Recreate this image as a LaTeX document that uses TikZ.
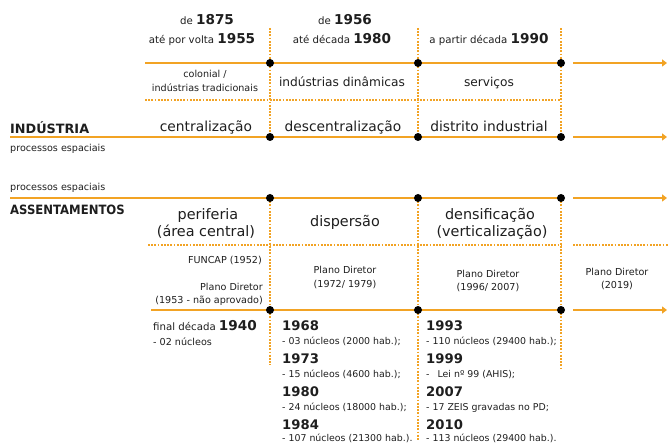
\documentclass[tikz,border=0pt]{standalone}
\usepackage{fontspec}
\setmainfont{DejaVu Sans}
\usetikzlibrary{arrows.meta}
\definecolor{orng}{RGB}{242,163,36}
\definecolor{txt}{RGB}{30,30,30}
\pgfdeclarelayer{bg}
\pgfsetlayers{bg,main}
\newcommand{\byr}[1]{{\fontsize{13.6}{15}\selectfont\bfseries #1}}
\begin{document}
\begin{tikzpicture}[x=1pt,y=-1pt,
  solidline/.style={orng, line width=2.8pt},
  arrline/.style={orng, line width=2.8pt, -{Triangle[length=5pt,width=7pt]}},
  dotline/.style={orng, line width=1.8pt, dash pattern=on 1.8pt off 1.4pt},
  hdot/.style={circle, fill=black, inner sep=0pt, minimum size=8pt},
  lbl/.style={text=txt, inner sep=0pt},
  sm/.style={lbl, font=\fontsize{9.6}{11}\selectfont},
  hs/.style={lbl, font=\fontsize{10.2}{12}\selectfont},
  ds/.style={lbl, font=\fontsize{9.4}{11}\selectfont},
  md/.style={lbl, font=\fontsize{12.2}{14}\selectfont},
  lg/.style={lbl, font=\fontsize{13.8}{16}\selectfont},
  xl/.style={lbl, font=\fontsize{14.4}{16}\selectfont},
  hd/.style={lbl, font=\fontsize{12.8}{16}\selectfont\bfseries},
  yr/.style={lbl, font=\fontsize{13.2}{16}\selectfont\bfseries},
]
\useasboundingbox (0,0) rectangle (668,443);

% junction dots
\foreach \n/\yy in {t/63,i/137,a/198,b/310}{
  \node[hdot] (\n1) at (270,\yy) {};
  \node[hdot] (\n2) at (418,\yy) {};
  \node[hdot] (\n3) at (561,\yy) {};
}
% free ends
\coordinate (tL) at (145,63);  \coordinate (tA) at (573,63);  \coordinate (tE) at (667,63);
\coordinate (iL) at (10,137);  \coordinate (iA) at (573,137); \coordinate (iE) at (667,137);
\coordinate (aL) at (10,198);  \coordinate (aA) at (573,198); \coordinate (aE) at (667,198);
\coordinate (bL) at (151,310); \coordinate (bA) at (573,310); \coordinate (bE) at (667,310);
\coordinate (d1L) at (145,100); \coordinate (d1R) at (561,100);
\coordinate (d2L) at (148,245); \coordinate (d2R) at (561,245);
\coordinate (d2A) at (573,245); \coordinate (d2E) at (668,245);
\coordinate (v1T) at (270,28); \coordinate (v2T) at (418,28); \coordinate (v3T) at (561,28);
\coordinate (v1B) at (270,365); \coordinate (v2B) at (418,440); \coordinate (v3B) at (561,368);

\begin{pgfonlayer}{bg}
  \foreach \n in {t,i,a,b}{
    \draw[solidline] (\n1.center) -- (\n2.center) -- (\n3.center);
    \draw[arrline] (\n A) -- (\n E);
  }
  \draw[solidline] (tL) -- (t1.center);
  \draw[solidline] (iL) -- (i1.center);
  \draw[solidline] (aL) -- (a1.center);
  \draw[solidline] (bL) -- (b1.center);
  \draw[dotline] (d1L) -- (d1R);
  \draw[dotline] (d2L) -- (d2R);
  \draw[dotline] (d2A) -- (d2E);
  \draw[dotline] (v1T) -- (i1.center);
  \draw[dotline] (v2T) -- (i2.center);
  \draw[dotline] (v3T) -- (i3.center);
  \draw[dotline] (a1.center) -- (v1B);
  \draw[dotline] (a2.center) -- (v2B);
  \draw[dotline] (a3.center) -- (v3B);
\end{pgfonlayer}

% header
\node[hs, anchor=base] (h1a) at (207,25) {de \byr{1875}};
\node[hs, anchor=base] (h1b) at (202,43.5) {até por volta \byr{1955}};
\node[hs, anchor=base] (h2a) at (345,25) {de \byr{1956}};
\node[hs, anchor=base] (h2b) at (342,43.5) {até década \byr{1980}};
\node[hs, anchor=base] (h3b) at (489,43.5) {a partir década \byr{1990}};

% industry rows
\node[sm, anchor=base] (c1a) at (205,77.7) {colonial /};
\node[sm, anchor=base] (c1b) at (205,91.7) {indústrias tradicionais};
\node[md, anchor=base] (c2) at (342,87) {indústrias dinâmicas};
\node[md, anchor=base] (c3) at (489,87) {serviços};
\node[lg, anchor=base] (p1) at (206,131.7) {centralização};
\node[lg, anchor=base] (p2) at (343,131.7) {descentralização};
\node[lg, anchor=base] (p3) at (489,131.7) {distrito industrial};
\node[hd, anchor=base west] (ind) at (10,133.3) {INDÚSTRIA};
\node[sm, anchor=base west] (pe1) at (10,152) {processos espaciais};

% settlements
\node[sm, anchor=base west] (pe2) at (10,191) {processos espaciais};
\node[hd, anchor=base west] (ass) at (10,215) {\scalebox{0.91}[1]{ASSENTAMENTOS}};
\node[xl, anchor=base] (s1a) at (208,220) {periferia};
\node[xl, anchor=base] (s1b) at (206,237) {(área central)};
\node[xl, anchor=base] (s2) at (345,227) {dispersão};
\node[xl, anchor=base] (s3a) at (490,220) {densificação};
\node[xl, anchor=base] (s3b) at (492,237) {(verticalização)};

\node[sm, anchor=base east] (f1) at (262,263.5) {FUNCAP (1952)};
\node[sm, anchor=base east] (f2) at (263,290) {Plano Diretor};
\node[sm, anchor=base east] (f3) at (263,303) {(1953 - não aprovado)};
\node[sm, anchor=base] (g1) at (345,273) {Plano Diretor};
\node[sm, anchor=base] (g2) at (345,287) {(1972/ 1979)};
\node[sm, anchor=base] (k1) at (488,277.5) {Plano Diretor};
\node[sm, anchor=base] (k2) at (488,290.5) {(1996/ 2007)};
\node[sm, anchor=base] (m1) at (617,275) {Plano Diretor};
\node[sm, anchor=base] (m2) at (617,288.5) {(2019)};

% bottom lists
\node[hs, anchor=base west] (n0a) at (153,330) {final década \byr{1940}};
\node[sm, anchor=base west] (n0b) at (153,345) {- 02 núcleos};

\node[yr, anchor=base west] (y1) at (282,330) {1968};
\node[ds, anchor=base west] (y1d) at (282,344) {- 03 núcleos (2000 hab.);};
\node[yr, anchor=base west] (y2) at (282,363) {1973};
\node[ds, anchor=base west] (y2d) at (282,377) {- 15 núcleos (4600 hab.);};
\node[yr, anchor=base west] (y3) at (282,396) {1980};
\node[ds, anchor=base west] (y3d) at (282,410) {- 24 núcleos (18000 hab.);};
\node[yr, anchor=base west] (y4) at (282,429) {1984};
\node[ds, anchor=base west] (y4d) at (282,441.5) {- 107 núcleos (21300 hab.).};

\node[yr, anchor=base west] (z1) at (426,330) {1993};
\node[ds, anchor=base west] (z1d) at (426,344) {- 110 núcleos (29400 hab.);};
\node[yr, anchor=base west] (z2) at (426,363) {1999};
\node[ds, anchor=base west] (z2d) at (426,377) {-\hspace{8pt}Lei nº 99 (AHIS);};
\node[yr, anchor=base west] (z3) at (426,396) {2007};
\node[ds, anchor=base west] (z3d) at (426,410) {- 17 ZEIS gravadas no PD;};
\node[yr, anchor=base west] (z4) at (426,429) {2010};
\node[ds, anchor=base west] (z4d) at (426,441.5) {- 113 núcleos (29400 hab.).};
\end{tikzpicture}
\end{document}
